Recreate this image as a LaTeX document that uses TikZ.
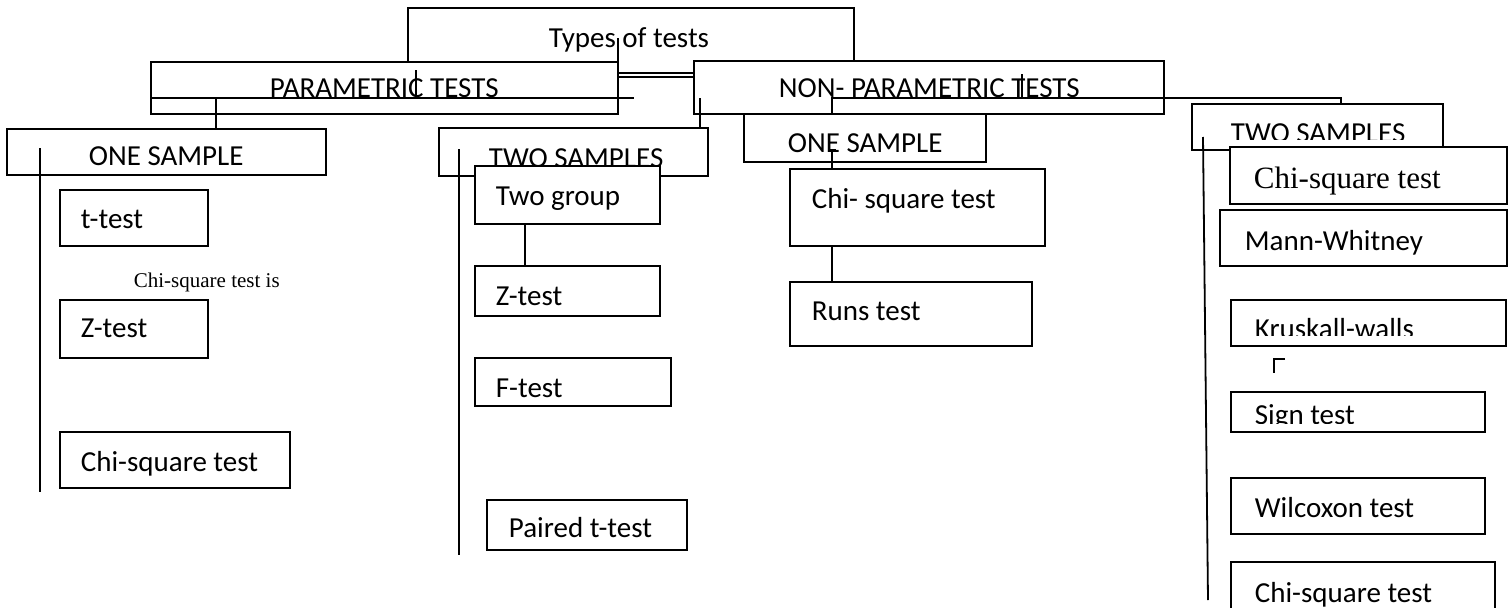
\documentclass[tikz,border=0pt]{standalone}
\usepackage{fontspec}
\setmainfont{Carlito}
\newfontfamily\timesfont{Liberation Serif}
\begin{document}
\begin{tikzpicture}[x=1pt, y=-1pt, line width=1.8pt, font=\fontsize{29}{32}\selectfont,
		box/.style={draw, fill=white, inner sep=0pt, outer sep=0pt, anchor=north west},
		lbl/.style={inner sep=0pt, anchor=base west},
		serif/.style={font=\timesfont\fontsize{#1}{#1}\selectfont}]
	\useasboundingbox (0,0) rectangle (1508,608);
	\node[box, minimum width=446pt, minimum height=65pt] (types) at (408,8) {};
	\node[lbl, anchor=base] (typestxt) at (629,47) {Types of tests};
	\node[box, minimum width=467pt, minimum height=52pt] (param) at (151,62) {};
	\node[lbl] (paramtxt) at (269,97) {PARAMETRIC TESTS};
	\node[box, minimum width=470pt, minimum height=53pt] (nonparam) at (694,61) {};
	\node[lbl] (nonparamtxt) at (778,97) {NON- PARAMETRIC TESTS};
	\coordinate (tsplit) at (618,38);
	\coordinate (tjoin) at (694,77);
	\draw (tsplit) |- (tjoin);
	\draw (416,70) -- (416,97);
	\draw (1022,74) -- (1022,98);

	\node[box, minimum width=319pt, minimum height=46pt] (onep) at (7,129) {};
	\node[lbl] (oneptxt) at (88,165) {ONE SAMPLE};
	\node[box, minimum width=269pt, minimum height=48pt] (twop) at (439,128) {};
	\node[lbl] (twoptxt) at (488,167) {TWO SAMPLES};
	\node[box, minimum width=242pt, minimum height=48pt] (onenp) at (744,114) {};
	\node[lbl] (onenptxt) at (787,152) {ONE SAMPLE};
	\node[box, minimum width=251pt, minimum height=46pt] (twonp) at (1192,104) {};
	\begin{scope}
		\clip (twonp.north west) rectangle (1443,139);
		\node[lbl] (twonptxt) at (1230,142) {TWO SAMPLES};
	\end{scope}

	\coordinate (pbar) at (634,98);
	\coordinate (pone) at (216,98);
	\coordinate (ptwo) at (700,98);
	\coordinate (npone) at (832,98);
	\coordinate (nptwo) at (1341,98);
	\draw (param.west |- pbar) -- (pbar);
	\draw (pone) -- (pone |- onep.north);
	\draw (ptwo) -- (ptwo |- twop.north);
	\draw (npone |- onenp.north) -- (npone) -- (nptwo) -- (nptwo |- twonp.north);

	\draw (40,148) -- (40,492);
	\node[box, minimum width=148pt, minimum height=56pt] (ttest) at (60,190) {};
	\node[lbl] (ttesttxt) at (80,228) {t-test};
	\node[lbl, serif=21] (chinote) at (133,287) {Chi-square test is};
	\node[box, minimum width=148pt, minimum height=58pt] (ztestp) at (60,300) {};
	\node[lbl] (ztestptxt) at (80,337) {Z-test};
	\node[box, minimum width=230pt, minimum height=56pt] (chip) at (60,432) {};
	\node[lbl] (chiptxt) at (80,471) {Chi-square test};

	\draw (459,149) -- (459,555);
	\node[box, minimum width=185pt, minimum height=58pt] (twogrp) at (475,166) {};
	\node[lbl] (twogrptxt) at (495,205) {Two group};
	\node[box, minimum width=185pt, minimum height=50pt] (ztestm) at (475,266) {};
	\node[lbl] (ztestmtxt) at (495,305) {Z-test};
	\draw ([xshift=50pt]twogrp.south west) -- ([xshift=50pt]ztestm.north west);
	\node[box, minimum width=196pt, minimum height=48pt] (ftest) at (475,358) {};
	\node[lbl] (ftesttxt) at (495,397) {F-test};
	\node[box, minimum width=200pt, minimum height=50pt] (paired) at (487,500) {};
	\node[lbl] (pairedtxt) at (508,537) {Paired t-test};

	\node[box, minimum width=255pt, minimum height=77pt] (chinp) at (790,169) {};
	\node[lbl] (chinptxt) at (811,208) {Chi- square test};
	\node[box, minimum width=242pt, minimum height=64pt] (runs) at (790,282) {};
	\node[lbl] (runstxt) at (811,320) {Runs test};
	\draw (829,150) -- (836,150);
	\draw (832,150) -- ([xshift=42pt]chinp.north west);
	\draw ([xshift=42pt]chinp.south west) -- ([xshift=42pt]runs.north west);

	\draw (1203,137) -- (1208,600);
	\node[box, minimum width=277pt, minimum height=57pt] (chitwo) at (1230,147) {};
	\node[lbl, serif=31] (chitwotxt) at (1253,188) {Chi-square test};
	\node[box, minimum width=287pt, minimum height=56pt] (mann) at (1220,210) {};
	\node[lbl] (manntxt) at (1244,250) {Mann-Whitney};
	\node[box, minimum width=275pt, minimum height=46pt] (krus) at (1231,300) {};
	\begin{scope}
		\clip (krus.north west) rectangle (1500,335);
		\node[lbl] (krustxt) at (1254,338) {Kruskall-walls};
	\end{scope}
	\draw (1285,359) -- (1274,359) -- (1274,373);
	\node[box, minimum width=254pt, minimum height=40pt] (sign) at (1231,392) {};
	\begin{scope}
		\clip (sign.north west) rectangle (1480,423);
		\node[lbl] (signtxt) at (1254,424) {Sign test};
	\end{scope}
	\node[box, minimum width=254pt, minimum height=56pt] (wilc) at (1231,478) {};
	\node[lbl] (wilctxt) at (1254,517) {Wilcoxon test};
	\node[box, minimum width=264pt, minimum height=80pt] (chilast) at (1231,562) {};
	\node[lbl] (chilasttxt) at (1254,602) {Chi-square test};
\end{tikzpicture}
\end{document}
